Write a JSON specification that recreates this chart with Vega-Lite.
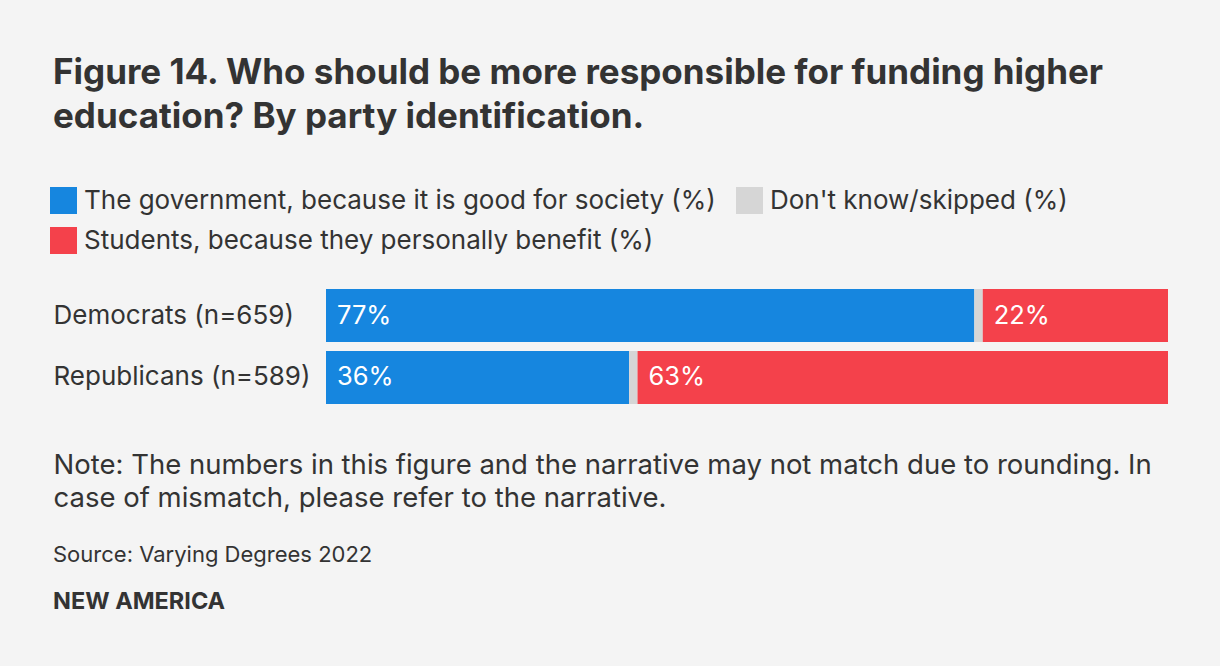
{
  "$schema": "https://vega.github.io/schema/vega-lite/v6.json",
  "background": "#f4f4f4",
  "padding": {"left": 50, "top": 56, "right": 52, "bottom": 51},
  "spacing": 31,
  "config": {
    "view": {"stroke": null},
    "font": "Inter",
    "title": {"color": "#333333", "anchor": "start", "font": "Inter"}
  },
  "datasets": {
    "survey": [
      {"party": "Democrats (n=659)", "category": "The government, because it is good for society (%)", "order": 1, "value": 77},
      {"party": "Democrats (n=659)", "category": "Don't know/skipped (%)", "order": 2, "value": 1},
      {"party": "Democrats (n=659)", "category": "Students, because they personally benefit (%)", "order": 3, "value": 22},
      {"party": "Republicans (n=589)", "category": "The government, because it is good for society (%)", "order": 1, "value": 36},
      {"party": "Republicans (n=589)", "category": "Don't know/skipped (%)", "order": 2, "value": 1},
      {"party": "Republicans (n=589)", "category": "Students, because they personally benefit (%)", "order": 3, "value": 63}
    ]
  },
  "vconcat": [
    {
      "title": {
        "text": ["Figure 14. Who should be more responsible for funding higher", "education? By party identification."],
        "fontSize": 35,
        "fontWeight": "bold",
        "lineHeight": 44,
        "offset": 154
      },
      "width": 842,
      "height": 115,
      "data": {"name": "survey"},
      "transform": [
        {"stack": "value", "groupby": ["party"], "sort": [{"field": "order", "order": "ascending"}], "as": ["v0", "v1"]}
      ],
      "encoding": {
        "y": {
          "field": "party",
          "type": "nominal",
          "sort": ["Democrats (n=659)", "Republicans (n=589)"],
          "scale": {"paddingInner": 0.145, "paddingOuter": 0},
          "axis": {
            "title": null,
            "domain": false,
            "ticks": false,
            "labelAlign": "left",
            "labelPadding": 273,
            "labelLimit": 400,
            "labelFontSize": 26,
            "labelColor": "#333333",
            "labelFont": "Inter"
          }
        }
      },
      "layer": [
        {
          "mark": {"type": "bar"},
          "encoding": {
            "x": {
              "field": "v0",
              "type": "quantitative",
              "scale": {"domain": [0, 100]},
              "axis": {
                "labels": false,
                "ticks": false,
                "domain": false,
                "grid": false,
                "title": ["Note: The numbers in this figure and the narrative may not match due to rounding. In", "case of mismatch, please refer to the narrative."],
                "titleFont": "Inter",
                "titleFontSize": 27.5,
                "titleFontWeight": "normal",
                "titleColor": "#333333",
                "titleLineHeight": 33,
                "titleAnchor": "start",
                "titleAlign": "left",
                "titleX": -273,
                "titlePadding": 47
              }
            },
            "x2": {"field": "v1"},
            "color": {
              "field": "category",
              "type": "nominal",
              "scale": {
                "domain": ["The government, because it is good for society (%)", "Don't know/skipped (%)", "Students, because they personally benefit (%)"],
                "range": ["#1686df", "#d6d6d6", "#f4414b"]
              },
              "legend": {
                "title": null,
                "orient": "none",
                "legendX": -276,
                "legendY": -102,
                "direction": "horizontal",
                "columns": 2,
                "symbolType": "square",
                "symbolSize": 729,
                "symbolStrokeWidth": 0,
                "symbolOpacity": 1,
                "labelFontSize": 26,
                "labelColor": "#333333",
                "labelFont": "Inter",
                "labelOffset": 7,
                "labelLimit": 800,
                "columnPadding": 20,
                "rowPadding": 13
              }
            }
          }
        },
        {
          "transform": [
            {"filter": "datum.order !== 2"},
            {"calculate": "datum.value + '%'", "as": "label"}
          ],
          "mark": {"type": "text", "align": "left", "baseline": "middle", "dx": 11, "color": "white", "fontSize": 25.5, "font": "Inter"},
          "encoding": {
            "x": {"field": "v0", "type": "quantitative"},
            "text": {"field": "label"}
          }
        }
      ]
    },
    {
      "title": {
        "text": "Source: Varying Degrees 2022",
        "fontSize": 22,
        "fontWeight": "normal",
        "dx": -273,
        "subtitle": "NEW AMERICA",
        "subtitleFontSize": 23.5,
        "subtitleFontWeight": "bold",
        "subtitleColor": "#333333",
        "subtitleFont": "Inter",
        "subtitlePadding": 23,
        "offset": 0
      },
      "width": 842,
      "height": 1,
      "data": {"values": [{}]},
      "mark": {"type": "rect", "opacity": 0}
    }
  ]
}
